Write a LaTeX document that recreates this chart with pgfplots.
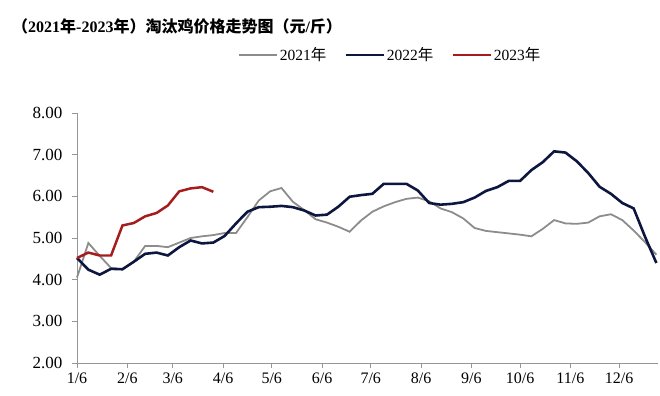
\documentclass[border=0pt]{standalone}
\usepackage{fontspec}
\setmainfont{Liberation Serif}
\newfontfamily\cjk{Noto Sans CJK SC}
\newfontfamily\cjkb{Noto Sans CJK SC Bold}
\usepackage{pgfplots}
\pgfplotsset{compat=1.18}
\definecolor{c21}{RGB}{140,140,140}
\definecolor{c22}{RGB}{12,22,62}
\definecolor{c23}{RGB}{165,28,28}
\definecolor{axc}{RGB}{150,150,150}
\begin{document}
\begin{tikzpicture}
\useasboundingbox (0,0) rectangle (660bp,396bp);
\node[anchor=west,inner sep=0pt] at (12bp,370bp) {\fontsize{16bp}{19bp}\selectfont\bfseries{\cjkb （}2021{\cjkb 年}-2023{\cjkb 年）淘汰鸡价格走势图（元}/{\cjkb 斤）}};
\begin{axis}[
  at={(77bp,33bp)}, anchor=south west,
  scale only axis, width=581bp, height=250bp,
  xmin=0, xmax=358, ymin=2, ymax=8,
  axis x line*=bottom, axis y line*=left,
  axis line style={axc, line width=0.8pt, -},
  tick style={axc, line width=0.8pt},
  tick align=outside, major tick length=5bp,
  xtick={0,31,59,90,120,151,181,212,243,273,304,334},
  xticklabels={1/6,2/6,3/6,4/6,5/6,6/6,7/6,8/6,9/6,10/6,11/6,12/6},
  ytick={2,3,4,5,6,7,8},
  /pgf/number format/.cd, fixed, fixed zerofill, precision=2, assume math mode=true,
  /pgfplots/.cd,
  yticklabel style={font=\fontsize{17bp}{19bp}\selectfont, black, xshift=-6bp},
  xticklabel style={font=\fontsize{16bp}{18bp}\selectfont, black, yshift=-1bp},
  legend style={at={(0.277,1.232)}, anchor=west, draw=none, fill=none, inner sep=0pt,
    font=\fontsize{15.5bp}{18bp}\selectfont, legend columns=3,
    /tikz/every even column/.append style={column sep=16bp}},
  legend cell align=left,
  legend image code/.code={\draw[#1] (0bp,0bp) -- (38bp,0bp);},
  clip=false,
]
\addplot[c21, line width=1.8pt] coordinates {
(0,4.05)(7,4.88)(14,4.57)(21,4.28)(28,4.25)(35,4.43)(42,4.81)(49,4.81)(56,4.78)(63,4.89)
(70,5.00)(77,5.04)(84,5.07)(91,5.12)(98,5.12)(105,5.50)(112,5.90)(119,6.12)(126,6.20)(133,5.87)
(140,5.67)(147,5.45)(154,5.37)(161,5.27)(168,5.15)(175,5.42)(182,5.63)(189,5.76)(196,5.86)(203,5.94)
(210,5.97)(217,5.88)(224,5.71)(231,5.62)(238,5.47)(245,5.24)(252,5.17)(259,5.14)(266,5.11)(273,5.08)
(280,5.04)(287,5.22)(294,5.43)(301,5.35)(308,5.34)(315,5.37)(322,5.52)(329,5.57)(336,5.43)(343,5.18)
(350,4.90)(357,4.60)};
\addlegendentry{2021{\cjk 年}}
\addplot[c22, line width=2.6pt] coordinates {
(0,4.52)(7,4.24)(14,4.12)(21,4.26)(28,4.25)(35,4.43)(42,4.62)(49,4.65)(56,4.58)(63,4.78)
(70,4.94)(77,4.87)(84,4.89)(91,5.05)(98,5.35)(105,5.63)(112,5.74)(119,5.75)(126,5.77)(133,5.74)
(140,5.66)(147,5.54)(154,5.56)(161,5.75)(168,5.99)(175,6.03)(182,6.06)(189,6.30)(196,6.30)(203,6.30)
(210,6.14)(217,5.84)(224,5.80)(231,5.82)(238,5.86)(245,5.97)(252,6.13)(259,6.22)(266,6.37)(273,6.37)
(280,6.63)(287,6.82)(294,7.08)(301,7.05)(308,6.84)(315,6.56)(322,6.23)(329,6.06)(336,5.84)(343,5.71)
(350,5.03)(357,4.40)};
\addlegendentry{2022{\cjk 年}}
\addplot[c23, line width=2.5pt] coordinates {
(0,4.52)(7,4.65)(14,4.58)(21,4.58)(28,5.30)(35,5.36)(42,5.52)(49,5.60)(56,5.78)(63,6.12)
(70,6.19)(77,6.22)(84,6.11)};
\addlegendentry{2023{\cjk 年}}
\end{axis}
\end{tikzpicture}
\end{document}
